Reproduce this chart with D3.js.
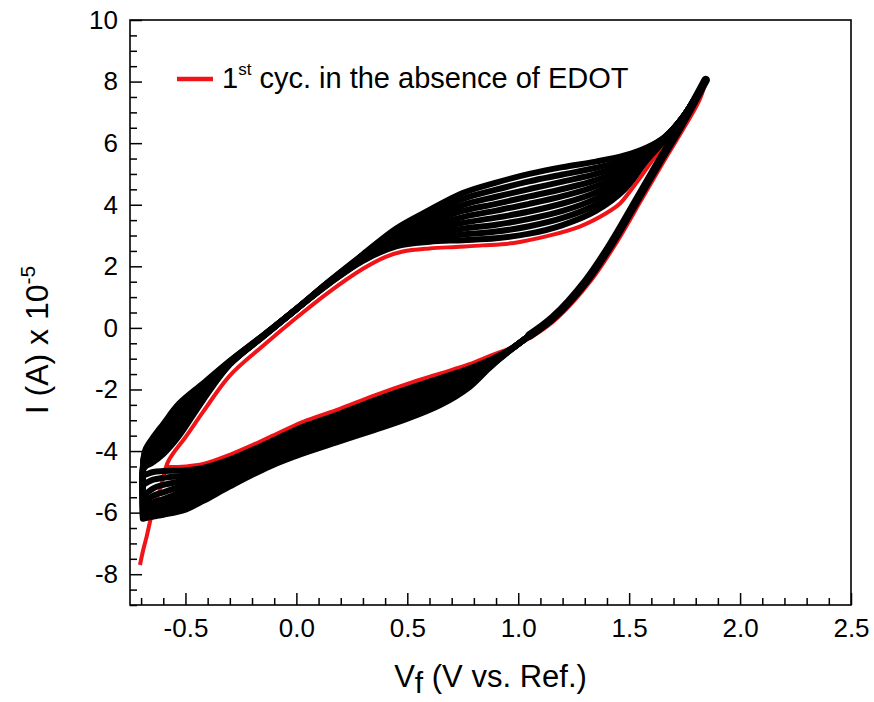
<!DOCTYPE html>
<html>
<head>
<meta charset="utf-8">
<script src="https://cdn.jsdelivr.net/npm/d3@7"></script>
<style>
  body { margin: 0; background: #fff; }
  svg { display: block; font-family: "Liberation Sans", Arial, sans-serif; }
  text { white-space: pre; }
</style>
</head>
<body>
<svg id="chart" width="874" height="702"></svg>
<script>
// ---- data (V in volts, I in 1e-5 A) ----

// 1st cycle in the absence of EDOT (red): start tail, forward sweep, reverse sweep
const firstCycle = [
  [-0.705, -7.70], [-0.690, -7.20], [-0.675, -6.78], [-0.645, -5.86], [-0.615, -5.25], [-0.598, -4.80], [-0.588, -4.52],
  [-0.575, -4.30], [-0.55, -4.02], [-0.50, -3.55], [-0.42, -2.72], [-0.30, -1.55], [-0.15, -0.58], [0.0, 0.33],
  [0.15, 1.18], [0.30, 1.92], [0.40, 2.30], [0.48, 2.48], [0.60, 2.58], [0.72, 2.63], [0.84, 2.68], [0.98, 2.76],
  [1.13, 2.98], [1.28, 3.30], [1.40, 3.74], [1.46, 4.05], [1.50, 4.40], [1.55, 4.88], [1.62, 5.60], [1.70, 6.40],
  [1.78, 7.30], [1.845, 8.08],
  [1.82, 7.45], [1.747, 6.50], [1.657, 5.42], [1.552, 4.12], [1.447, 2.82], [1.327, 1.53], [1.177, 0.33],
  [1.07, -0.25], [0.975, -0.62], [0.87, -0.92], [0.78, -1.18], [0.65, -1.48], [0.50, -1.82], [0.35, -2.20],
  [0.18, -2.67], [0.03, -3.05], [-0.12, -3.55], [-0.30, -4.12], [-0.42, -4.42], [-0.50, -4.50], [-0.585, -4.52]
];

// later cycles (black), forward sweep: one row per potential, one column per cycle (2nd ... 10th)
const upV = [-0.692, -0.690, -0.68, -0.65, -0.60, -0.53, -0.42, -0.30, -0.15, 0.0, 0.15,
             0.30, 0.45, 0.60, 0.75, 0.90, 1.05, 1.20, 1.35, 1.48, 1.58, 1.66];
const upI = [
  [-4.80, -5.10, -5.48, -5.68, -5.85, -5.98, -6.08, -6.15, -6.20],
  [-4.60, -4.56, -4.52, -4.47, -4.43, -4.40, -4.36, -4.33, -4.30],
  [-4.50, -4.42, -4.33, -4.25, -4.17, -4.10, -4.05, -4.00, -3.95],
  [-4.38, -4.28, -4.18, -4.08, -3.98, -3.88, -3.78, -3.69, -3.60],
  [-4.10, -3.98, -3.86, -3.74, -3.62, -3.49, -3.37, -3.24, -3.12],
  [-3.52, -3.40, -3.28, -3.14, -3.01, -2.87, -2.74, -2.60, -2.47],
  [-2.34, -2.28, -2.23, -2.17, -2.10, -2.02, -1.95, -1.87, -1.80],
  [-1.19, -1.18, -1.17, -1.16, -1.15, -1.13, -1.11, -1.09, -1.07],
  [-0.28, -0.28, -0.28, -0.27, -0.27, -0.26, -0.25, -0.25, -0.24],
  [0.61, 0.61, 0.61, 0.61, 0.61, 0.61, 0.61, 0.62, 0.62],
  [1.45, 1.46, 1.47, 1.48, 1.49, 1.50, 1.51, 1.52, 1.53],
  [2.18, 2.20, 2.22, 2.24, 2.27, 2.30, 2.33, 2.36, 2.39],
  [2.65, 2.72, 2.78, 2.85, 2.92, 2.99, 3.07, 3.15, 3.23],
  [2.80, 2.92, 3.04, 3.17, 3.30, 3.43, 3.56, 3.70, 3.83],
  [2.85, 3.03, 3.22, 3.41, 3.60, 3.80, 3.99, 4.19, 4.38],
  [2.91, 3.13, 3.35, 3.58, 3.81, 4.03, 4.26, 4.49, 4.72],
  [3.06, 3.30, 3.54, 3.78, 4.03, 4.27, 4.51, 4.76, 5.00],
  [3.34, 3.57, 3.80, 4.04, 4.28, 4.51, 4.75, 4.98, 5.22],
  [3.80, 4.00, 4.20, 4.40, 4.60, 4.80, 5.00, 5.20, 5.40],
  [4.50, 4.64, 4.78, 4.91, 5.05, 5.19, 5.33, 5.46, 5.60],
  [5.45, 5.50, 5.55, 5.60, 5.66, 5.71, 5.76, 5.81, 5.86],
  [6.10, 6.11, 6.13, 6.14, 6.15, 6.16, 6.17, 6.19, 6.20]
];

// shared part of the black cycles: run up to the vertex and the steep reverse branch
const vertexUp = [[1.74, 6.82], [1.80, 7.48], [1.845, 8.05]];
const diagonal = [[1.845, 8.05], [1.80, 7.45], [1.727, 6.50], [1.637, 5.42], [1.532, 4.12],
                  [1.427, 2.82], [1.307, 1.53], [1.157, 0.33], [1.05, -0.25]];

// later cycles (black), reverse sweep below 1 V
const loV = [0.96, 0.87, 0.78, 0.65, 0.50, 0.35, 0.18, 0.03, -0.12, -0.30, -0.42, -0.50, -0.60, -0.645, -0.692];
const loI = [
  [-0.72, -0.72, -0.73, -0.73, -0.73, -0.74, -0.74, -0.75, -0.75],
  [-1.05, -1.08, -1.11, -1.14, -1.18, -1.21, -1.24, -1.27, -1.30],
  [-1.32, -1.40, -1.47, -1.55, -1.62, -1.70, -1.77, -1.85, -1.92],
  [-1.63, -1.74, -1.85, -1.96, -2.07, -2.17, -2.28, -2.39, -2.50],
  [-1.98, -2.10, -2.22, -2.34, -2.47, -2.59, -2.71, -2.83, -2.95],
  [-2.36, -2.48, -2.60, -2.72, -2.84, -2.96, -3.08, -3.20, -3.32],
  [-2.83, -2.94, -3.05, -3.16, -3.28, -3.39, -3.50, -3.61, -3.72],
  [-3.21, -3.32, -3.43, -3.54, -3.65, -3.75, -3.86, -3.97, -4.08],
  [-3.71, -3.81, -3.91, -4.01, -4.11, -4.20, -4.30, -4.40, -4.50],
  [-4.28, -4.39, -4.50, -4.61, -4.72, -4.82, -4.93, -5.04, -5.15],
  [-4.55, -4.68, -4.82, -4.95, -5.09, -5.22, -5.35, -5.49, -5.62],
  [-4.63, -4.79, -4.95, -5.11, -5.27, -5.42, -5.58, -5.74, -5.90],
  [-4.65, -4.87, -5.10, -5.34, -5.56, -5.74, -5.90, -6.00, -6.07],
  [-4.68, -4.93, -5.21, -5.45, -5.66, -5.83, -5.98, -6.07, -6.13],
  [-4.80, -5.10, -5.48, -5.68, -5.85, -5.98, -6.08, -6.15, -6.20]
];

// axes
const xDomain = [-0.75, 2.5];
const yDomain = [-9, 10];
const xMajor = [-0.5, 0, 0.5, 1, 1.5, 2, 2.5];
const xTickLabels = ['-0.5', '0.0', '0.5', '1.0', '1.5', '2.0', '2.5'];
const yMajor = [-8, -6, -4, -2, 0, 2, 4, 6, 8, 10];
const yTickLabels = ['-8', '-6', '-4', '-2', '0', '2', '4', '6', '8', '10'];
const legendLabel = ['1', 'st', ' cyc. in the absence of EDOT'];

// ---- drawing ----
const svg = d3.select('#chart');
const font = '"Liberation Sans", Arial, sans-serif';

const plot = { left: 130, right: 851, top: 20, bottom: 605 };

const x = d3.scaleLinear().domain(xDomain).range([plot.left, plot.right]);
const y = d3.scaleLinear().domain(yDomain).range([plot.bottom, plot.top]);

const line = d3.line()
    .x(d => x(d[0]))
    .y(d => y(d[1]))
    .curve(d3.curveCatmullRom.alpha(0.5));

const nCycles = upI[0].length;
const cycles = d3.range(nCycles).map(k => {
    const up = upV.map((v, i) => [v, upI[i][k]]);
    const lo = loV.map((v, i) => [v, loI[i][k]]);
    return up.concat(vertexUp, diagonal.slice(1), lo);
});

const curves = svg.append('g');

// first cycle underneath, later cycles pile on top of it
curves.append('path')
    .attr('d', line(firstCycle))
    .attr('fill', 'none')
    .attr('stroke', '#f01418')
    .attr('stroke-width', 4)
    .attr('stroke-linejoin', 'round');

curves.selectAll('path.cyc')
    .data(cycles)
    .join('path')
    .attr('class', 'cyc')
    .attr('d', d => line(d))
    .attr('fill', 'none')
    .attr('stroke', '#000')
    .attr('stroke-width', 6)
    .attr('stroke-linejoin', 'round')
    .attr('stroke-linecap', 'round');

curves.append('path')
    .attr('d', line(diagonal))
    .attr('fill', 'none')
    .attr('stroke', '#000')
    .attr('stroke-width', 8.5)
    .attr('stroke-linecap', 'round');

// axes with inward ticks
const xMinor = d3.range(-7, 25).map(d => d / 10).filter(v => !xMajor.some(m => Math.abs(m - v) < 1e-9));
const yMinor = d3.range(-18, 20).map(d => d / 2).filter(v => v % 2 !== 0);

const styleAxis = g => {
    g.select('.domain').remove();
    g.selectAll('line').attr('stroke', '#000').attr('stroke-width', 1.5);
    g.selectAll('text').attr('fill', '#000');
    g.attr('font-family', font).attr('font-size', 26);
};

svg.append('g')
    .attr('transform', `translate(0,${plot.bottom})`)
    .call(d3.axisBottom(x).tickValues(xMinor).tickSize(-7).tickFormat(''))
    .call(styleAxis);

svg.append('g')
    .attr('transform', `translate(0,${plot.bottom})`)
    .call(d3.axisBottom(x).tickValues(xMajor).tickSize(-12).tickPadding(14)
        .tickFormat((d, i) => xTickLabels[i]))
    .call(styleAxis);

svg.append('g')
    .attr('transform', `translate(${plot.left},0)`)
    .call(d3.axisLeft(y).tickValues(yMinor).tickSize(-7).tickFormat(''))
    .call(styleAxis);

svg.append('g')
    .attr('transform', `translate(${plot.left},0)`)
    .call(d3.axisLeft(y).tickValues(yMajor).tickSize(-12).tickPadding(12)
        .tickFormat((d, i) => yTickLabels[i]))
    .call(styleAxis);

svg.append('rect')
    .attr('x', plot.left)
    .attr('y', plot.top)
    .attr('width', plot.right - plot.left)
    .attr('height', plot.bottom - plot.top)
    .attr('fill', 'none')
    .attr('stroke', '#000')
    .attr('stroke-width', 1.6);

// axis titles
const xt = svg.append('text')
    .attr('x', (plot.left + plot.right) / 2)
    .attr('y', 687)
    .attr('text-anchor', 'middle')
    .attr('font-family', font)
    .attr('font-size', 31);
xt.append('tspan').text('V');
xt.append('tspan').attr('dy', 6).attr('font-size', 30).text('f');
xt.append('tspan').attr('dy', -6).text(' (V vs. Ref.)');

const yt = svg.append('text')
    .attr('transform', `translate(48,340) rotate(-90)`)
    .attr('text-anchor', 'middle')
    .attr('font-family', font)
    .attr('font-size', 32);
yt.append('tspan').text('I (A) x 10');
yt.append('tspan').attr('dy', -13).attr('font-size', 21).text('-5');

// legend
svg.append('line')
    .attr('x1', 177).attr('x2', 213)
    .attr('y1', 79).attr('y2', 79)
    .attr('stroke', '#f01418')
    .attr('stroke-width', 4.5);

const lg = svg.append('text')
    .attr('x', 222)
    .attr('y', 88)
    .attr('font-family', font)
    .attr('font-size', 29);
lg.append('tspan').text(legendLabel[0]);
lg.append('tspan').attr('dy', -13).attr('font-size', 17).text(legendLabel[1]);
lg.append('tspan').attr('dy', 13).text(legendLabel[2]);
</script>
</body>
</html>
